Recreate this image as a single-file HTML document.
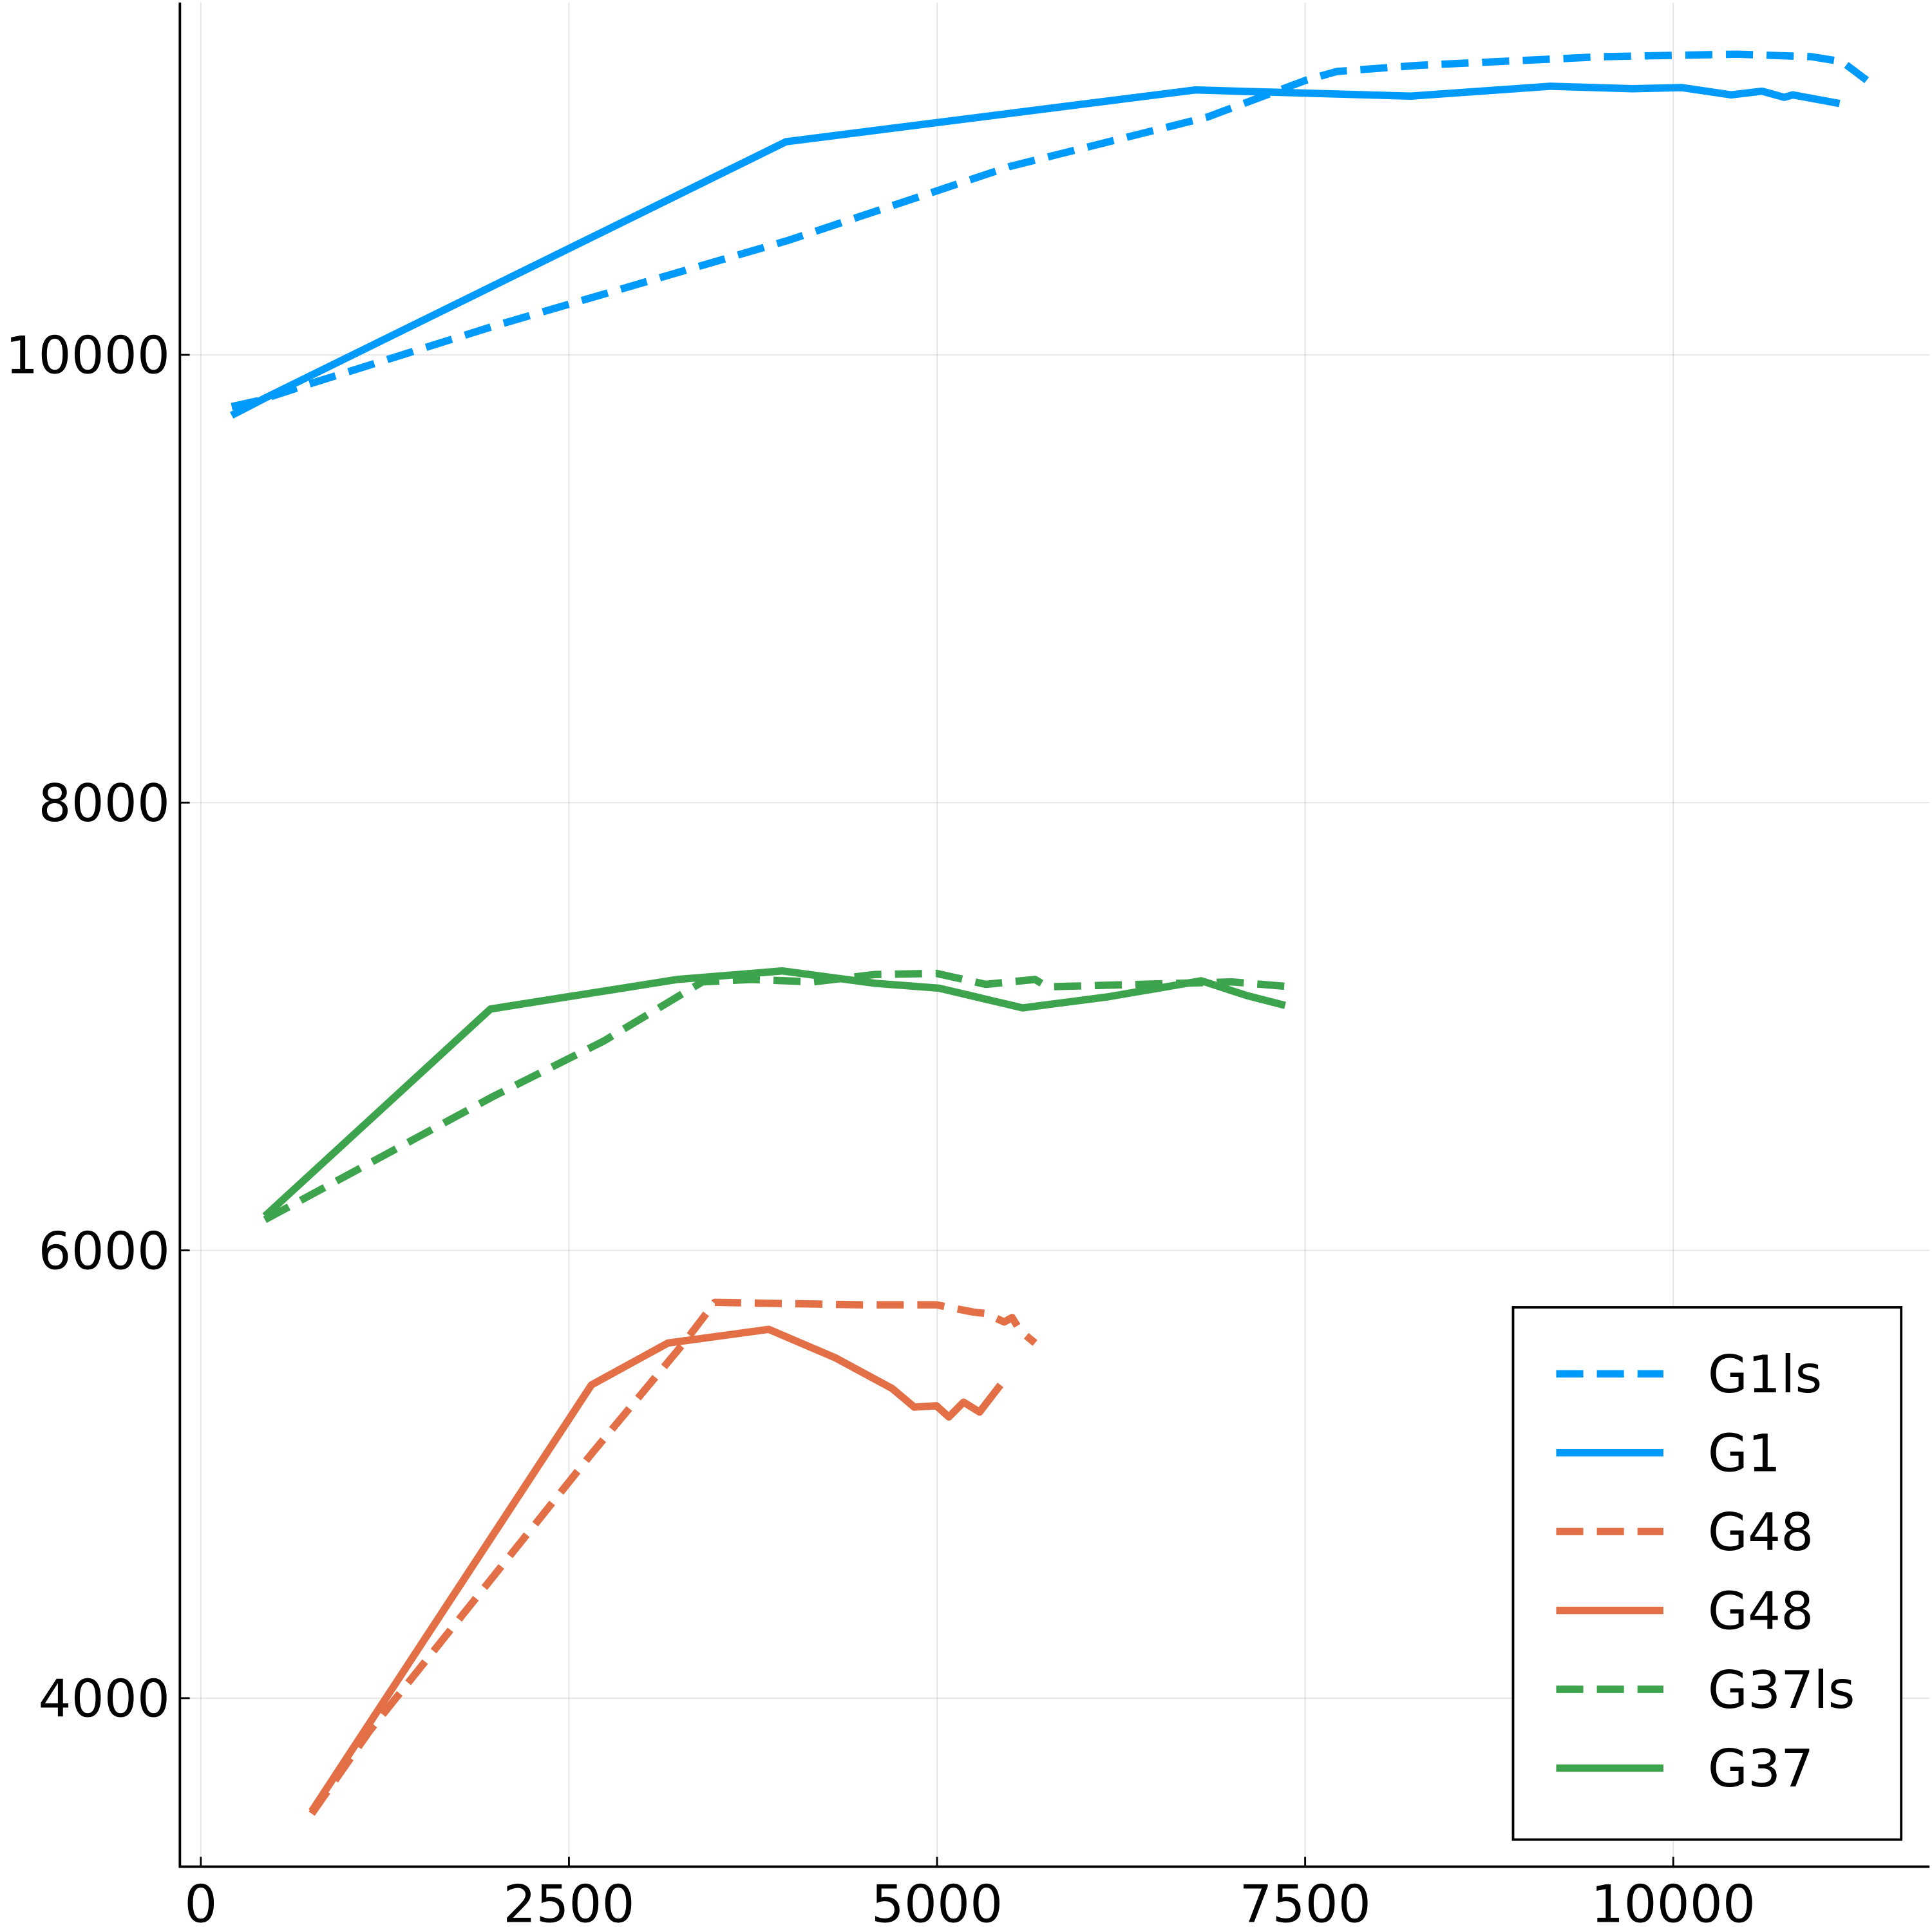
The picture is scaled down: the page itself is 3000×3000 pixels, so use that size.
<!DOCTYPE html>
<html><head><meta charset="utf-8"><style>html,body{margin:0;padding:0;background:#fff}svg{display:block}</style></head>
<body>
<svg id="chart" width="3000" height="3000" viewBox="0 0 1568 1568" xmlns="http://www.w3.org/2000/svg" font-family="DejaVu Sans, Liberation Sans, sans-serif">
<g id="grid"></g>
<g id="series"></g>
<g id="axes"></g>
<g id="legend"></g>
</svg>
<script>
const xTicks = [0, 2500, 5000, 7500, 10000];
const yTicks = [4000, 6000, 8000, 10000];
const g1lsX = [209,393,728,1983,3992,5498,6837,7506,7715,8259,9515,10435,10937,11146,11314];
const g1lsY = [9769,9796,9868,10127,10512,10842,11062,11227,11266,11293,11332,11343,11332,11310,11227];
const g1X = [209,435,3975,6753,8218,9163,9724,10059,10393,10603,10753,10812,11130];
const g1Y = [9730,9807,10952,11183,11156,11200,11189,11194,11161,11178,11150,11161,11123];
const g48lsX = [753,1146,2653,3280,3490,4494,4996,5247,5331,5456,5510,5565,5665];
const g48lsY = [3484,3853,5091,5586,5768,5757,5757,5724,5718,5680,5700,5641,5586];
const g48X = [753,2653,3172,3858,4310,4695,4845,4996,5080,5180,5289,5431];
const g48Y = [3495,5399,5586,5647,5520,5383,5300,5306,5256,5322,5278,5399];
const g37lsX = [435,1983,2736,3406,3741,4159,4577,4996,5331,5665,5749,7004,7406];
const g37lsY = [6137,6687,6935,7199,7210,7199,7232,7237,7188,7210,7177,7199,7177];
const g37X = [435,1967,3238,3950,4577,5013,5582,6167,6795,7105,7364];
const g37Y = [6153,7078,7210,7248,7193,7171,7083,7133,7204,7138,7094];
const seriesNames = ["G1ls","G1","G48","G48","G37ls","G37"];

const NS="http://www.w3.org/2000/svg";
const L=146,R=1566,T=2,B=1515;
const xs=v=>163+v*0.1195;
const ys=v=>288-(v-10000)*0.1817;
function mk(t,a,p){const e=document.createElementNS(NS,t);for(const k in a)e.setAttribute(k,a[k]);p.appendChild(e);return e;}
const grid=document.getElementById('grid'),axes=document.getElementById('axes'),ser=document.getElementById('series'),leg=document.getElementById('legend');
xTicks.forEach(v=>{
 const l=mk('line',{x1:xs(v),x2:xs(v),y1:T,y2:B,stroke:'#000','stroke-opacity':0.1,'stroke-width':1},grid);
 
 
 const tk=mk('line',{x1:xs(v),x2:xs(v),y1:B,y2:B-8,stroke:'#000','stroke-width':1.5},axes);
 
 
 const t=mk('text',{x:xs(v),y:1560,'text-anchor':'middle','font-size':42},axes);t.textContent=v;
 
 
});
yTicks.forEach(v=>{
 const l=mk('line',{x1:L,x2:R,y1:ys(v),y2:ys(v),stroke:'#000','stroke-opacity':0.1,'stroke-width':1},grid);
 
 
 const tk=mk('line',{x1:L,x2:L+8,y1:ys(v),y2:ys(v),stroke:'#000','stroke-width':1.5},axes);
 
 
 const t=mk('text',{x:138,y:ys(v)+15,'text-anchor':'end','font-size':42},axes);t.textContent=v;
 
 
});
const ax=mk('path',{d:`M${L} ${T} L${L} ${B} L${R} ${B}`,fill:'none',stroke:'#000','stroke-width':2},axes);


const defs=[[g1lsX,g1lsY,'#009AFA',true],[g1X,g1Y,'#009AFA',false],[g48lsX,g48lsY,'#E26F46',true],[g48X,g48Y,'#E26F46',false],[g37lsX,g37lsY,'#3DA44D',true],[g37X,g37Y,'#3DA44D',false]];
defs.forEach((d,i)=>{
 const pts=d[0].map((x,j)=>xs(x).toFixed(1)+','+ys(d[1][j]).toFixed(1)).join(' ');
 const p=mk('polyline',{points:pts,fill:'none',stroke:d[2],'stroke-width':6,'stroke-linejoin':'round'},ser);
 if(d[3])p.setAttribute('stroke-dasharray','22 11');
 
 
});
const box=mk('rect',{x:1228,y:1061,width:315,height:432,fill:'#fff',stroke:'#000','stroke-width':2},leg);


defs.forEach((d,i)=>{
 const y=1115+i*64;
 const l=mk('line',{x1:1263,x2:1350,y1:y,y2:y,stroke:d[2],'stroke-width':6},leg);
 if(d[3])l.setAttribute('stroke-dasharray','22 11');
 
 
 const t=mk('text',{x:1386,y:y+15,'font-size':42},leg);t.textContent=seriesNames[i];
 
 
});
</script>
</body></html>
